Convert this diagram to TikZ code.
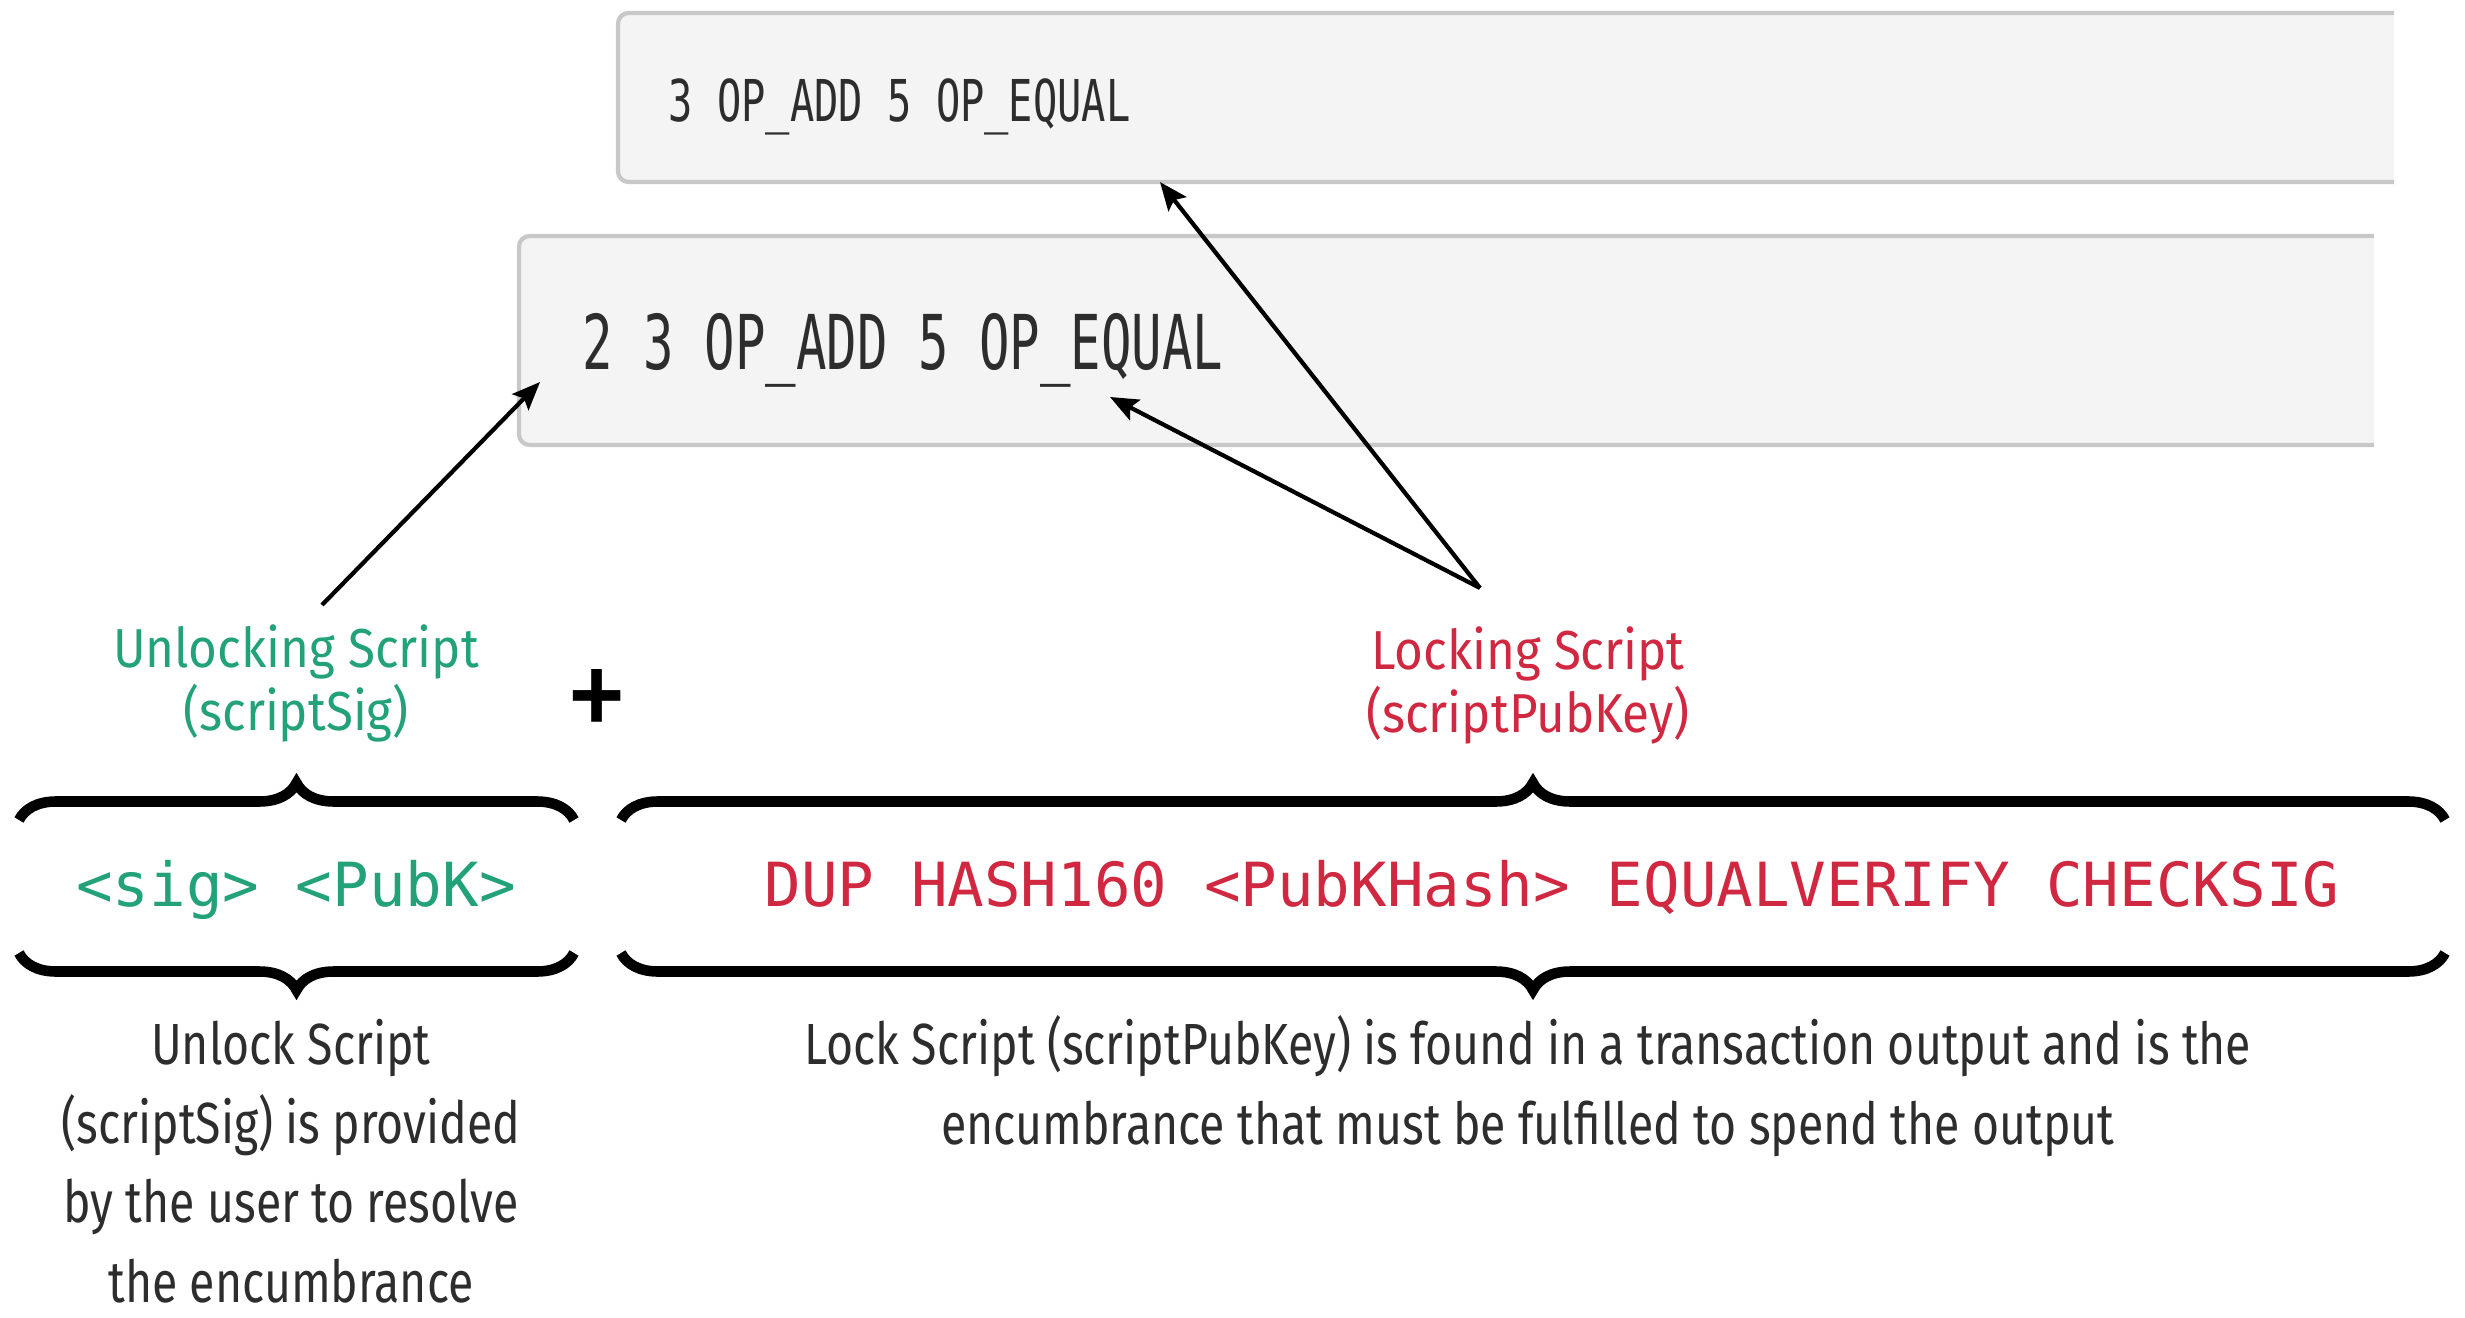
\documentclass[tikz,border=0pt]{standalone}
\usepackage{fontspec}
\usetikzlibrary{arrows.meta,calc,decorations.pathreplacing}
\newfontfamily\lblfont[FakeStretch=0.9]{Fira Sans}
\newfontfamily\notefont[FakeStretch=0.8]{Fira Sans}
\newfontfamily\codefont{DejaVu Sans Mono}
\newfontfamily\boxfont[FakeStretch=0.7]{DejaVu Sans Mono}
\newfontfamily\bigboxfont[FakeStretch=0.67]{DejaVu Sans Mono}
\definecolor{UnlockClr}{RGB}{35,162,122}
\definecolor{LockClr}{RGB}{208,40,64}
\definecolor{NoteClr}{RGB}{45,45,45}
\definecolor{BoxFill}{RGB}{244,244,244}
\definecolor{BoxLine}{RGB}{200,200,200}

\begin{document}
\begin{tikzpicture}[x=0.01cm,y=-0.01cm,
  arr/.style={line width=1.2pt,-{Stealth[length=8pt,width=6.5pt,inset=1.5pt]}},
  brc/.style={line width=3pt,decorate,decoration={brace,amplitude=0.37cm}},
  lbl/.style={anchor=base,align=center,inner sep=0pt,font=\lblfont\fontsize{15.6}{17.9}\selectfont},
  note/.style={anchor=base,align=center,inner sep=0pt,text=NoteClr,font=\notefont\fontsize{16.5}{22.5}\selectfont},
  code/.style={anchor=base,inner sep=0pt,font=\codefont\fontsize{17.3}{20}\selectfont}]
\useasboundingbox (0,0) rectangle (2465,1318);

% the two script boxes, open on the right
\fill[BoxFill] (2394,13) [rounded corners=3pt] -- (618,13) -- (618,182) [sharp corners] -- (2394,182) -- cycle;
\draw[BoxLine,line width=1.2pt] (2394,13) [rounded corners=3pt] -- (618,13) -- (618,182) [sharp corners] -- (2394,182);
\fill[BoxFill] (2374,236) [rounded corners=3pt] -- (519,236) -- (519,445) [sharp corners] -- (2374,445) -- cycle;
\draw[BoxLine,line width=1.2pt] (2374,236) [rounded corners=3pt] -- (519,236) -- (519,445) [sharp corners] -- (2374,445);

\node (topcode) [anchor=base west,inner sep=0pt,text=NoteClr,font=\boxfont\fontsize{16.4}{18}\selectfont] at (668,121) {3 OP\_ADD 5 OP\_EQUAL};
\node (midcode) [anchor=base west,inner sep=0pt,text=NoteClr,font=\bigboxfont\fontsize{21.5}{24}\selectfont] at (582,369) {2 3 OP\_ADD 5 OP\_EQUAL};

% labels (base = last line)
\node (unlockLbl) [lbl,text=UnlockClr] at (296,730) {Unlocking Script\\(scriptSig)};
\node (plus) [inner sep=0pt,font=\lblfont\fontsize{40}{40}\selectfont] at (597,706) {+};
\node (lockLbl) [lbl,text=LockClr] at (1528,732) {Locking Script\\(scriptPubKey)};

\node (unlockCode) [code,text=UnlockClr] at (296,906) {<sig> <PubK>};
\node (lockCode) [code,text=LockClr] at (1552,906) {DUP HASH160 <PubKHash> EQUALVERIFY CHECKSIG};

\node (unlockNote) [note] at (291,1302) {Unlock Script\\(scriptSig) is provided\\by the user to resolve\\the encumbrance};
\node (lockNote) [note] at (1528,1144) {Lock Script (scriptPubKey) is found in a transaction output and is the\\encumbrance that must be fulfilled to spend the output};

% braces
\draw[brc] (19,820) -- (574,820);
\draw[brc] (574,953) -- (19,953);
\draw[brc] (621,820) -- (2445,820);
\draw[brc] (2445,953) -- (621,953);

\coordinate (unlockTail) at (322,605);
\coordinate (lockTail) at (1480,588);
\coordinate (midHead) at (540,382);
\coordinate (midTip) at (1110,397);
\coordinate (topTip) at (1160,182);

\draw[arr] (unlockTail) -- (midHead);
\draw[arr] (lockTail) -- (topTip);
\draw[arr] (lockTail) -- (midTip);
\end{tikzpicture}
\end{document}
